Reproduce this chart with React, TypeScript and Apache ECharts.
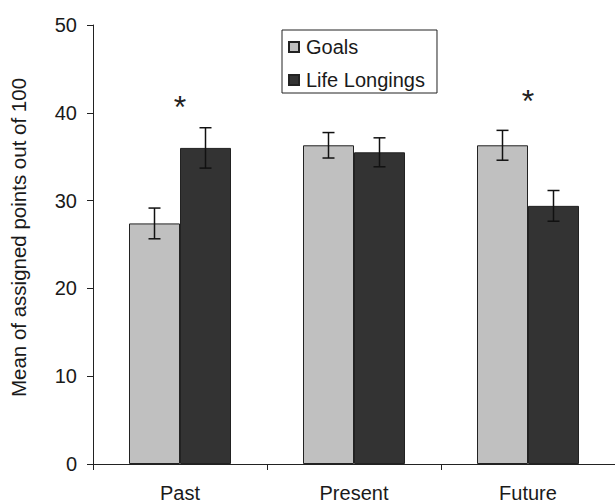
import React, { useEffect, useRef } from "react";
import * as echarts from "echarts";

const categories = ["Past", "Present", "Future"];
const seriesNames = ["Goals", "Life Longings"];
const goalsMeans = [27.4, 36.3, 36.3];
const goalsErrors = [1.75, 1.45, 1.7];
const longingsMeans = [36.0, 35.5, 29.4];
const longingsErrors = [2.3, 1.65, 1.75];
const significanceCategories = [0, 2];
const significanceValues = [41.6, 42.2];
const yTicks = { min: 0, max: 50, interval: 10 };
const yAxisTitle = "Mean of assigned points out of 100";

const FONT = "'Liberation Sans', Arial, Helvetica, sans-serif";
const BAR_W = 51;

export default function App() {
  const ref = useRef<HTMLDivElement>(null);
  useEffect(() => {
    if (!ref.current) return;
    document.body.style.margin = "0";
    const chart = echarts.init(ref.current, undefined, { renderer: "svg" });
    const errData: number[][] = [];
    for (let i = 0; i < categories.length; i++) {
      errData.push([i, goalsMeans[i], goalsErrors[i], -1]);
      errData.push([i, longingsMeans[i], longingsErrors[i], 1]);
    }
    const starData = significanceCategories.map((c, i) => [c, significanceValues[i]]);
    chart.setOption({
      animation: false,
      backgroundColor: "#ffffff",
      textStyle: { fontFamily: FONT },
      grid: { left: 86, right: -8, top: 25, bottom: 39, containLabel: false },
      legend: {
        data: seriesNames,
        orient: "vertical",
        left: 282,
        top: 30,
        padding: [7, 12, 3, 6],
        itemWidth: 10,
        itemHeight: 10,
        itemGap: 13,
        borderColor: "#222",
        borderWidth: 1,
        icon: "rect",
        textStyle: { fontSize: 20, color: "#1a1a1a", fontFamily: FONT, padding: [0, 0, 0, 2], lineHeight: 20 },
      },
      xAxis: {
        type: "category",
        data: categories,
        boundaryGap: true,
        axisLine: { lineStyle: { color: "#222", width: 1 } },
        axisTick: { show: true, alignWithLabel: false, length: 6, inside: false, lineStyle: { color: "#222" } },
        axisLabel: { fontSize: 20, color: "#1a1a1a", margin: 19, fontFamily: FONT },
        splitLine: { show: false },
      },
      yAxis: {
        type: "value",
        min: yTicks.min,
        max: yTicks.max,
        interval: yTicks.interval,
        name: yAxisTitle,
        nameLocation: "middle",
        nameGap: 64,
        nameTextStyle: { fontSize: 20.5, color: "#1a1a1a", fontFamily: FONT, padding: [0, 0, 0, 14] },
        axisLine: { show: true, lineStyle: { color: "#222", width: 1 } },
        axisTick: { show: true, length: 6, inside: false, lineStyle: { color: "#222" } },
        axisLabel: { fontSize: 20, color: "#1a1a1a", margin: 16, fontFamily: FONT },
        splitLine: { show: false },
      },
      series: [
        {
          name: seriesNames[0],
          type: "bar",
          data: goalsMeans,
          barWidth: BAR_W,
          barGap: "0%",
          itemStyle: { color: "#c0c0c0", borderColor: "#222", borderWidth: 1 },
        },
        {
          name: seriesNames[1],
          type: "bar",
          data: longingsMeans,
          barWidth: BAR_W,
          barGap: "0%",
          itemStyle: { color: "#333333", borderColor: "#222", borderWidth: 1 },
        },
        {
          name: "errors",
          type: "custom",
          data: errData,
          encode: { x: 0, y: 1 },
          z: 10,
          renderItem: (params: any, api: any) => {
            const cat = api.value(0);
            const mean = api.value(1);
            const err = api.value(2);
            const side = api.value(3);
            const c = api.coord([cat, mean]);
            const x = c[0] + (side * BAR_W) / 2;
            const top = api.coord([cat, mean + err])[1];
            const bot = api.coord([cat, mean - err])[1];
            const cap = 6;
            const style = { stroke: "#111", lineWidth: 1.5 };
            return {
              type: "group",
              children: [
                { type: "line", shape: { x1: x, y1: top, x2: x, y2: bot }, style },
                { type: "line", shape: { x1: x - cap, y1: top, x2: x + cap, y2: top }, style },
                { type: "line", shape: { x1: x - cap, y1: bot, x2: x + cap, y2: bot }, style },
              ],
            };
          },
        },
        {
          name: "significance",
          type: "custom",
          data: starData,
          encode: { x: 0, y: 1 },
          z: 10,
          renderItem: (params: any, api: any) => {
            const c = api.coord([api.value(0), api.value(1)]);
            return {
              type: "text",
              x: c[0],
              y: c[1] + 8,
              style: { text: "*", fontSize: 32, fill: "#222", align: "center", verticalAlign: "middle", fontFamily: FONT },
            };
          },
        },
      ],
    });
    return () => chart.dispose();
  }, []);
  return <div ref={ref} style={{ width: 615, height: 503 }} />;
}
